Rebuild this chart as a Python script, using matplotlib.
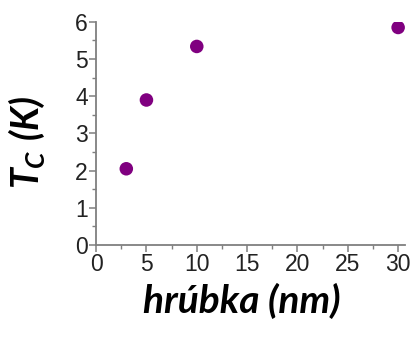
import matplotlib
matplotlib.use("Agg")
import matplotlib.pyplot as plt
from matplotlib.ticker import MultipleLocator

# thickness (nm) vs critical temperature (K)
thickness = [3, 5, 10, 30]
tc = [2.05, 3.9, 5.34, 5.85]

plt.rcParams["font.family"] = ["Liberation Sans", "DejaVu Sans"]
plt.rcParams["mathtext.fontset"] = "custom"
plt.rcParams["mathtext.it"] = "Lato:italic:bold"
plt.rcParams["mathtext.rm"] = "Lato:italic:bold"
plt.rcParams["mathtext.bf"] = "Lato:italic:bold"

fig = plt.figure(figsize=(4.16, 3.37), dpi=100)
ax = fig.add_axes([0.231, 0.273, 0.743, 0.662])

ax.scatter(thickness, tc, s=95, color="#800080", edgecolors="none", zorder=3)

ax.set_xlim(0, 30.7)
ax.set_ylim(0, 6)
ax.xaxis.set_major_locator(MultipleLocator(5))
ax.xaxis.set_minor_locator(MultipleLocator(2.5))
ax.yaxis.set_major_locator(MultipleLocator(1))
ax.yaxis.set_minor_locator(MultipleLocator(0.5))

for s in ("top", "right"):
    ax.spines[s].set_visible(False)
for s in ("left", "bottom"):
    ax.spines[s].set_color("#7f7f7f")
    ax.spines[s].set_linewidth(1.3)

ax.tick_params(which="major", length=5, width=1.1, color="#7f7f7f",
               labelsize=16.5, labelcolor="#222222", pad=1)
ax.tick_params(which="minor", length=3, width=1.0, color="#7f7f7f")

ax.set_xlabel("hrúbka (nm)", fontsize=28, family="Lato", weight="bold",
              style="italic")
ax.xaxis.set_label_coords(0.47, -0.25)
ax.xaxis.label.set_va("center")
ax.set_ylabel(r"$T_C\ (K)$", fontsize=27)
ax.yaxis.set_label_coords(-0.225, 0.46)
ax.yaxis.label.set_va("center")

fig.savefig("out.png", dpi=100)
